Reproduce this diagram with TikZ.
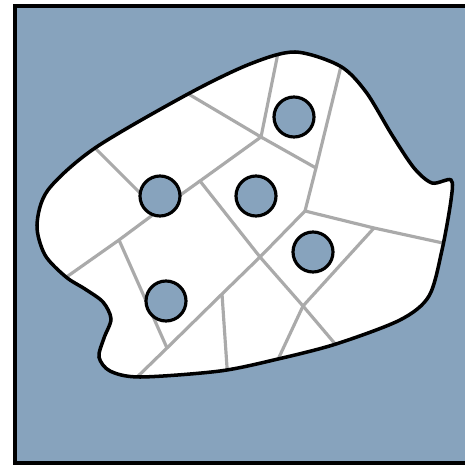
\documentclass[tikz,border=0pt]{standalone}
\usepackage{amsmath,amssymb}
\definecolor{slate}{RGB}{135,163,189}
\definecolor{edgegray}{RGB}{170,170,170}

% outline of the region (pixel coordinates)
\def\regionshape{plot[smooth cycle, tension=0.5] coordinates {
	(295,52) (340,66) (366,92) (392,135) (414,168) (432,183) (451,180)
	(451,200) (442,250) (429,296) (400,320) (336,344) (278,359) (220,371)
	(140,377) (110,371) (99,357) (104,338) (111,319) (103,302) (85,289) (66,277)
	(45,255) (37,225) (48,190) (95,148) (188,94) (250,64)}}

\begin{document}
\begin{tikzpicture}[x=0.02cm, y=-0.02cm,
		site/.style={circle, draw=black, fill=slate, line width=1.8pt, minimum size=0.8cm, inner sep=0pt},
		cell/.style={edgegray, line width=1.8pt}]

		\useasboundingbox (0,0) rectangle (464,465);

		% Background and frame
		\fill[slate] (15,6) rectangle (470,463);
		\draw[line width=2.3pt] (15,6) rectangle (470,463);

		% Cell vertices
		\coordinate (v1) at (261,137);
		\coordinate (v2) at (316,168);
		\coordinate (v3) at (305,211);
		\coordinate (v4) at (200,181);
		\coordinate (v5) at (119,240);
		\coordinate (v6) at (260,257);
		\coordinate (v7) at (303,306);
		\coordinate (v8) at (374,228);
		\coordinate (v9) at (167,348);
		\coordinate (v10) at (222,294);
		\coordinate (vc) at (158,211);

		% Ends outside the region (clipped)
		\coordinate (b1) at (279,48);
		\coordinate (b2) at (342,62);
		\coordinate (b3) at (452,245);
		\coordinate (b4) at (274,368);
		\coordinate (b5) at (342,352);
		\coordinate (b6) at (228,382);
		\coordinate (b7) at (132,382);
		\coordinate (b8) at (58,283);
		\coordinate (b9) at (88,141);
		\coordinate (b10) at (180,89);

		% Region
		\fill[white] \regionshape;

		% Cell edges (gray)
		\begin{scope}
			\clip \regionshape;
			\draw[cell] (b1) -- (v1) -- (b10);
			\draw[cell] (v1) -- (v2);
			\draw[cell] (b2) -- (v2) -- (v3) -- (v8) -- (b3);
			\draw[cell] (v8) -- (v7) -- (b4);
			\draw[cell] (v3) -- (v6) -- (v10) -- (v9) -- (b7);
			\draw[cell] (v10) -- (b6);
			\draw[cell] (v1) -- (v4) -- (v6) -- (v7) -- (b5);
			\draw[cell] (v4) -- (vc) -- (v5) -- (b8);
			\draw[cell] (vc) -- (b9);
			\draw[cell] (v5) -- (v9);
		\end{scope}

		% Outline
		\draw[line width=2pt] \regionshape;

		% Sites
		\node[site] (s1) at (294,117) {};
		\node[site] (s2) at (160,196) {};
		\node[site] (s3) at (256,196) {};
		\node[site] (s4) at (313,252) {};
		\node[site] (s5) at (166,301) {};

	\end{tikzpicture}
\end{document}
